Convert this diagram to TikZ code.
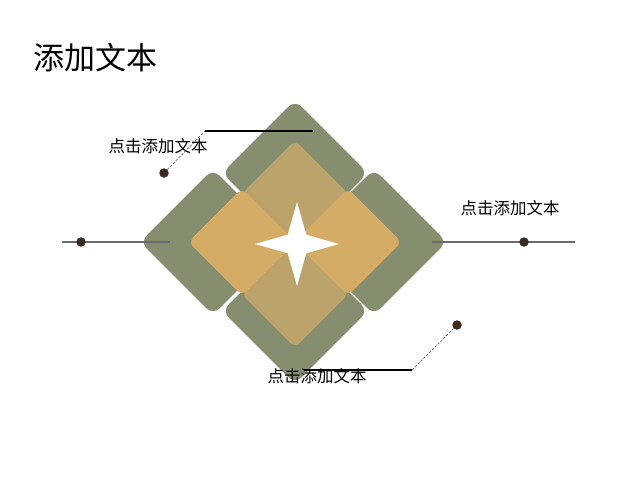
\documentclass[tikz,border=0pt]{standalone}
\usepackage{fontspec}
\newfontfamily\cjk{Noto Sans CJK SC}
\usetikzlibrary{shapes.geometric}

\definecolor{leaf}{HTML}{858F70}
\definecolor{sand}{HTML}{D4AC66}
\definecolor{sandmute}{HTML}{BBA36B}
\definecolor{seed}{HTML}{3D2B1F}
\definecolor{stem}{HTML}{6A6A6A}

\begin{document}
\begin{tikzpicture}[x=1pt, y=-1pt, every node/.style={inner sep=0pt}]

\tikzstyle{outer}=[fill=leaf, rotate=45, minimum size=103pt, rounded corners=9pt]
\tikzstyle{inner}=[rotate=45, minimum size=76pt, rounded corners=7pt]
\tikzstyle{dot}=[circle, fill=seed, minimum size=9.5pt]
\tikzstyle{hline}=[draw=stem, line width=1.3pt]
\tikzstyle{lead}=[draw=black!60, line width=0.7pt, dash pattern=on 2.5pt off 1.5pt]
\tikzstyle{ledge}=[draw=black, line width=1.1pt]
\tikzstyle{lbl}=[font=\cjk\fontsize{16.5}{20}\selectfont]

\useasboundingbox (0,0) rectangle (635,488);

\node (title) at (96,58) {\cjk\fontsize{31}{36}\selectfont 添加文本};

\node (gt) [outer] at (295,173) {};
\node (gb) [outer] at (295,311) {};
\node (gl) [outer] at (213,242) {};
\node (gr) [outer] at (374,242) {};

\coordinate (la) at (62,242);
\coordinate (lb) at (170,242);
\coordinate (ra) at (432,242);
\coordinate (rb) at (575,242);
\path [hline] (la) -- (lb);
\path [hline] (ra) -- (rb);

\node (tt) [inner, fill=sandmute] at (295,194) {};
\node (tb) [inner, fill=sandmute] at (295,294) {};
\node (tl) [inner, fill=sand] at (242,242) {};
\node (tr) [inner, fill=sand] at (348,242) {};

\node (spark) [star, star points=4, star point ratio=3.2, minimum size=84pt, fill=white] at (297,244) {};

\node (dl) [dot] at (81,242) {};
\node (dr) [dot] at (524,242) {};
\node (du) [dot] at (164,173) {};
\node (dd) [dot] at (457,325) {};

\coordinate (uk) at (205,131);
\coordinate (ue) at (313,131);
\coordinate (dk) at (412,370);
\coordinate (de) at (304,370);

\path [lead] (du) -- (uk);
\path [ledge] (uk) -- (ue);
\path [lead] (dd) -- (dk);
\path [ledge] (dk) -- (de);

\node (tu) [lbl] at (158,146) {点击添加文本};
\node (tri) [lbl] at (510,208) {点击添加文本};
\node (td) [lbl] at (317,376) {点击添加文本};

\end{tikzpicture}
\end{document}
